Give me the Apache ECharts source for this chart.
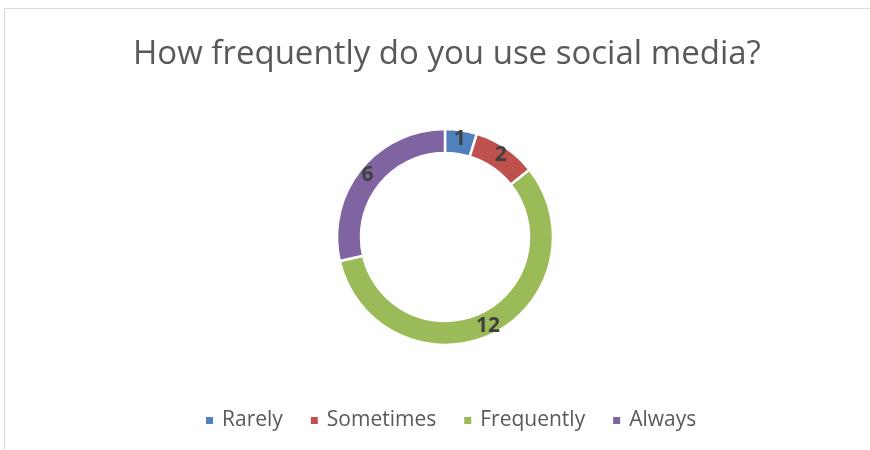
<!DOCTYPE html>
<html><head><meta charset="utf-8">
<script src="https://cdn.jsdelivr.net/npm/echarts@6/dist/echarts.min.js"></script>
<style>html,body{margin:0;padding:0;background:#fff}#c{width:870px;height:450px}</style>
</head><body><div id="c"></div>
<script>
const categories = ["Rarely", "Sometimes", "Frequently", "Always"];
const values = [1, 2, 12, 6];
const colors = ["#4F81BD", "#C0504D", "#9BBB59", "#8064A2"];
const titleText = "How frequently do you use social media?";

const chart = echarts.init(document.getElementById('c'), null, {renderer: 'canvas'});
chart.setOption({
  animation: false,
  backgroundColor: '#fff',
  color: colors,
  graphic: [{
    type: 'rect', shape: {x: 4.5, y: 8.5, width: 900, height: 500},
    style: {fill: 'none', stroke: '#d9d9d9', lineWidth: 1}, silent: true
  }],
  title: {
    text: titleText, left: 128, top: 33,
    textStyle: {fontFamily: 'Open Sans', fontSize: 33, fontWeight: 'normal', color: '#595959'}
  },
  legend: {
    bottom: 14, left: 199, icon: 'rect', itemWidth: 9, itemHeight: 9, itemGap: 26,
    textStyle: {fontFamily: 'Open Sans', fontSize: 21, color: '#595959', padding: [0, 0, 0, 3]},
    data: categories
  },
  series: [{
    type: 'pie', center: [445, 237], radius: [84, 108], startAngle: 90, clockwise: true,
    itemStyle: {borderColor: '#fff', borderWidth: 2.5},
    label: {show: true, position: 'inside', formatter: '{c}', fontFamily: 'Open Sans', fontWeight: 'bold', fontSize: 21, color: '#404040'},
    labelLine: {show: false},
    data: categories.map((n, i) => ({name: n, value: values[i]}))
  }]
});
</script></body></html>
